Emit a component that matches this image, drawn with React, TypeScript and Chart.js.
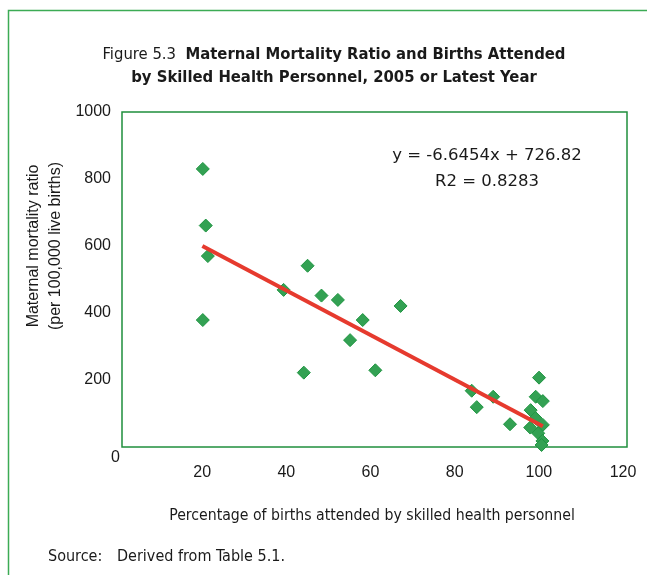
import React, { useEffect, useRef } from 'react';
import { Chart, registerables } from 'chart.js';

Chart.register(...registerables);

// ---- data ----
const birthsAttended = [19.2, 19.9, 20.4, 19.2, 38.4, 44.1, 47.4, 51.3, 57.2, 54.2, 43.2, 60.2, 66.2, 83.1, 84.3, 88.2, 92.2, 99.1, 98.3, 100, 97.1, 98.3, 97.0, 100, 98.9, 99.9, 99.7];
const mortalityRatio = [830, 661, 570, 379, 469, 541, 452, 439, 379, 319, 222, 229, 421, 168, 119, 150, 68, 207, 150, 137, 110, 86, 58, 66, 41, 18, 6];
const trendX = [19.1, 100];
const trendY = [600, 62];

const titleLabel = 'Figure 5.3  ';
const titleLine1 = 'Maternal Mortality Ratio and Births Attended';
const titleLine2 = 'by Skilled Health Personnel, 2005 or Latest Year';
const yTitleLines = ['Maternal mortality ratio', '(per 100,000 live births)'];
const xTitle = 'Percentage of births attended by skilled health personnel';
const equationLines = ['y = -6.6454x + 726.82', 'R2 = 0.8283'];
const sourceLabel = 'Source:';
const sourceText = 'Derived from Table 5.1.';
const originLabel = '0';

const NARROW = "'Liberation Sans Narrow', 'Arial Narrow', 'DejaVu Sans Condensed', sans-serif";
const SANS = "'Liberation Sans', Arial, sans-serif";
const DEJAVU = "'DejaVu Sans', sans-serif";

const decorPlugin = {
  id: 'decor',
  beforeDatasetsDraw(chart: any) {
    const { ctx, chartArea } = chart;
    ctx.save();
    ctx.strokeStyle = '#1f8f3c';
    ctx.lineWidth = 1.5;
    ctx.strokeRect(chartArea.left, chartArea.top, chartArea.right - chartArea.left, chartArea.bottom - chartArea.top);
    ctx.restore();
  },
  afterDraw(chart: any) {
    const { ctx } = chart;
    const xs = chart.scales.x;
    const ys = chart.scales.y;
    ctx.save();
    // outer frame
    ctx.strokeStyle = '#3cab55';
    ctx.lineWidth = 1.5;
    ctx.beginPath();
    ctx.moveTo(8.5, 575);
    ctx.lineTo(8.5, 10.5);
    ctx.lineTo(647, 10.5);
    ctx.stroke();

    ctx.fillStyle = '#1a1a1a';
    ctx.textBaseline = 'middle';
    // title
    const cx = 334;
    const tSize = 16.5;
    ctx.font = `${tSize}px ${NARROW}`;
    const w1 = ctx.measureText(titleLabel).width;
    ctx.font = `bold ${tSize}px ${NARROW}`;
    const w2 = ctx.measureText(titleLine1).width;
    const x0 = cx - (w1 + w2) / 2;
    ctx.textAlign = 'left';
    ctx.font = `${tSize}px ${NARROW}`;
    ctx.fillText(titleLabel, x0, 55);
    ctx.font = `bold ${tSize}px ${NARROW}`;
    ctx.fillText(titleLine1, x0 + w1, 55);
    ctx.textAlign = 'center';
    ctx.fillText(titleLine2, cx, 78);

    // equation
    ctx.font = `16.5px ${DEJAVU}`;
    ctx.fillText(equationLines[0], 487, 156);
    ctx.fillText(equationLines[1], 487, 182);

    // origin label
    ctx.font = `16px ${SANS}`;
    ctx.fillText(originLabel, xs.getPixelForValue(0) - 6.5, ys.getPixelForValue(0) + 11);

    // x title
    ctx.font = `15.7px ${NARROW}`;
    ctx.fillText(xTitle, 372, 516);

    // source
    ctx.textAlign = 'left';
    ctx.font = `16px ${NARROW}`;
    ctx.fillText(sourceLabel, 48, 557);
    ctx.fillText(sourceText, 117, 557);

    // y title
    ctx.font = `16px ${SANS}`;
    ctx.textAlign = 'center';
    ctx.translate(0, 246);
    ctx.rotate(-Math.PI / 2);
    ctx.fillText(yTitleLines[0], 0, 34);
    ctx.fillText(yTitleLines[1], 0, 56);
    ctx.restore();
  },
};

export default function App() {
  const canvasRef = useRef<HTMLCanvasElement>(null);

  useEffect(() => {
    if (!canvasRef.current) return;
    const points = birthsAttended.map((b, i) => ({ x: b, y: mortalityRatio[i] }));
    const trend = trendX.map((t, i) => ({ x: t, y: trendY[i] }));
    const chart = new Chart(canvasRef.current, {
      type: 'scatter',
      data: {
        datasets: [
          {
            type: 'line',
            data: trend,
            showLine: true,
            borderColor: '#e63a2e',
            borderWidth: 4,
            pointRadius: 0,
            fill: false,
          } as any,
          {
            data: points,
            pointStyle: 'rectRot',
            pointRadius: 6.5,
            pointHoverRadius: 6.5,
            backgroundColor: '#33a153',
            borderColor: '#1e9440',
            borderWidth: 1,
            clip: false,
          } as any,
        ],
      },
      options: {
        responsive: false,
        animation: false,
        devicePixelRatio: 1,
        layout: { padding: { left: 0, right: 20, top: 112, bottom: 0 } },
        plugins: { legend: { display: false }, tooltip: { enabled: false }, title: { display: false } },
        scales: {
          x: {
            type: 'linear',
            min: 0,
            max: 120,
            grid: { display: false, drawTicks: false, tickLength: 0 },
            border: { display: false },
            afterFit: (s: any) => { s.height = 128; s.paddingRight = 0; s.paddingLeft = 0; },
            ticks: {
              stepSize: 20,
              padding: 16,
              labelOffset: -4,
              color: '#1a1a1a',
              font: { family: SANS, size: 16 },
              callback: (v: any) => (v === 0 ? '' : String(v)),
            },
          },
          y: {
            type: 'linear',
            min: 0,
            max: 1000,
            grid: { display: false, drawTicks: false, tickLength: 0 },
            border: { display: false },
            afterFit: (s: any) => { s.width = 122; s.paddingTop = 0; s.paddingBottom = 0; },
            ticks: {
              stepSize: 200,
              padding: 11,
              color: '#1a1a1a',
              font: { family: SANS, size: 16 },
              callback: (v: any) => (v === 0 ? '' : String(v)),
            },
          },
        },
      },
      plugins: [decorPlugin],
    });
    return () => chart.destroy();
  }, []);

  return (
    <div style={{ position: 'absolute', left: 0, top: 0, width: 647, height: 575, background: '#fff' }}>
      <canvas ref={canvasRef} width={647} height={575} />
    </div>
  );
}
